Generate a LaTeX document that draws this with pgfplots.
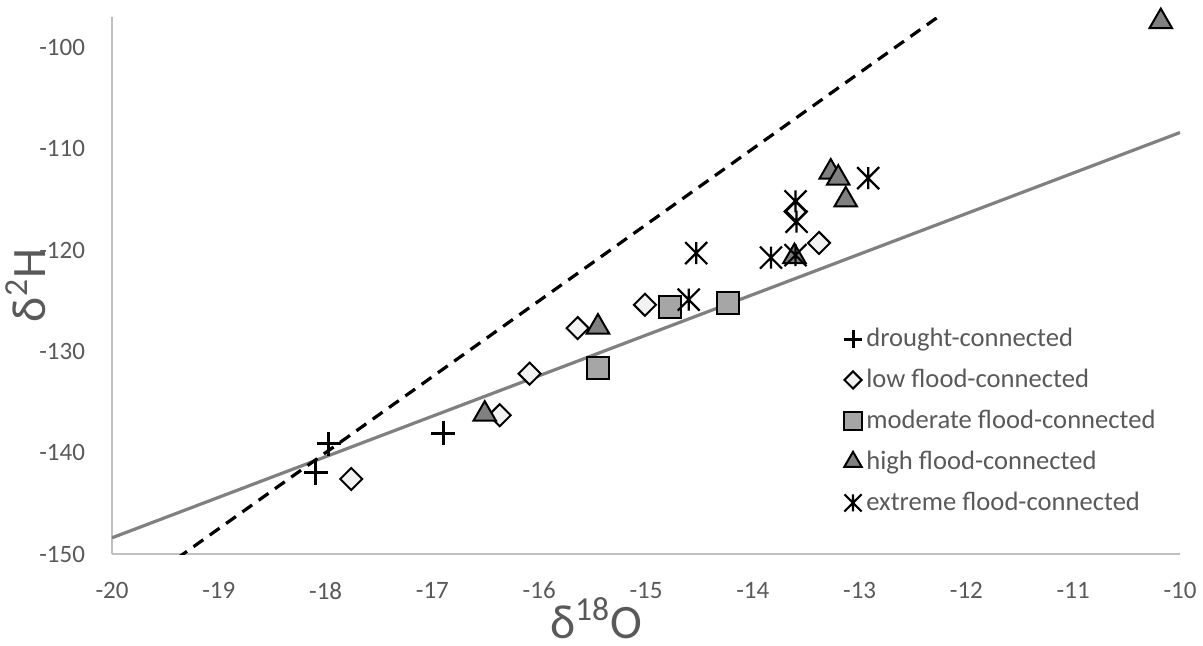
\documentclass[border=0pt]{standalone}
\usepackage{fontspec}
\setmainfont{Carlito}
\usepackage{pgfplots}
\pgfplotsset{compat=1.18}
\definecolor{tickgray}{HTML}{595959}
\definecolor{axgray}{HTML}{BFBFBF}
\definecolor{lowfill}{HTML}{F2F2F2}
\definecolor{modfill}{HTML}{A6A6A6}
\definecolor{highfill}{HTML}{808080}
\definecolor{linegray}{HTML}{808080}
\pgfdeclareplotmark{xstar}{%
  \pgfpathmoveto{\pgfqpoint{-\pgfplotmarksize}{-\pgfplotmarksize}}%
  \pgfpathlineto{\pgfqpoint{\pgfplotmarksize}{\pgfplotmarksize}}%
  \pgfpathmoveto{\pgfqpoint{-\pgfplotmarksize}{\pgfplotmarksize}}%
  \pgfpathlineto{\pgfqpoint{\pgfplotmarksize}{-\pgfplotmarksize}}%
  \pgfpathmoveto{\pgfqpoint{0pt}{-\pgfplotmarksize}}%
  \pgfpathlineto{\pgfqpoint{0pt}{\pgfplotmarksize}}%
  \pgfusepathqstroke}
\begin{document}
\begin{tikzpicture}
\path[use as bounding box] (-56pt,-45.5pt) rectangle (545.5pt,277pt);
\begin{axis}[
  at={(0,0)}, anchor=south west,
  scale only axis, width=534pt, height=268.5pt,
  xmin=-20, xmax=-10, ymin=-150, ymax=-97,
  xtick={-20,-19,...,-10}, ytick={-150,-140,...,-100},
  axis x line*=bottom, axis y line*=left,
  axis line style={draw=axgray, line width=1pt},
  major tick length=0pt,
  /pgf/number format/assume math mode=true,
  tick label style={font=\fontsize{12.5}{15}\selectfont, text=tickgray},
  xticklabel style={yshift=-10.5pt},
  yticklabel style={xshift=-10pt},
  xlabel={δ\textsuperscript{18}O},
  ylabel={δ\textsuperscript{2}H},
  label style={font=\fontsize{24}{28}\selectfont, text=tickgray},
  xlabel style={yshift=5.5pt, xshift=-25pt, inner ysep=1pt},
  ylabel style={yshift=-10pt},
  legend style={draw=none, fill=none, font=\fontsize{13.3}{16}\selectfont, text=tickgray,
    at={(0.6847,0.436)}, anchor=north west, row sep=5.75pt,
    legend cell align=left, inner xsep=0pt},
  legend image code/.code={\draw[every mark/.append style={scale=0.78}] plot coordinates {(0.12cm,0cm)};},
  clip=true,
]
\addplot[only marks, mark=+, mark size=6pt, mark options={draw=black, line width=1.5pt}]
  coordinates {(-17.97,-139.1) (-18.09,-142.0) (-16.90,-138.1)};
\addlegendentry{drought-connected}
\addplot[only marks, mark=square*, mark size=3.9pt, mark options={rotate=45, draw=black, fill=lowfill, line width=1pt}]
  coordinates {(-17.76,-142.6) (-16.37,-136.3) (-16.09,-132.2) (-15.64,-127.7) (-15.01,-125.4) (-13.38,-119.3) (-13.60,-116.2)};
\addlegendentry{low flood-connected}
\addplot[only marks, mark=square*, mark size=5.5pt, mark options={draw=black, fill=modfill, line width=1pt}]
  coordinates {(-15.45,-131.6) (-14.78,-125.6) (-14.23,-125.2)};
\addlegendentry{moderate flood-connected}
\addplot[only marks, mark=triangle*, mark size=6.5pt, mark options={draw=black, fill=highfill, line width=1pt}]
  coordinates {(-16.51,-136.2) (-15.45,-127.6) (-13.27,-112.3) (-13.20,-112.9) (-13.13,-115.05) (-13.61,-120.65) (-10.18,-97.45)};
\addlegendentry{high flood-connected}
\addplot[only marks, mark=xstar, mark size=5.5pt, mark options={draw=black, line width=1.1pt}]
  coordinates {(-14.53,-120.3) (-14.60,-124.9) (-12.92,-112.9) (-13.60,-115.2) (-13.59,-117.2) (-13.83,-120.75) (-13.60,-120.5)};
\addlegendentry{extreme flood-connected}
\addplot[forget plot, draw=linegray, line width=1.6pt] coordinates {(-20,-148.4) (-10,-108.4)};
\addplot[forget plot, draw=black, line width=1.6pt, dash pattern=on 6pt off 4pt] coordinates {(-20,-155) (-12,-95)};
\end{axis}
\end{tikzpicture}
\end{document}
